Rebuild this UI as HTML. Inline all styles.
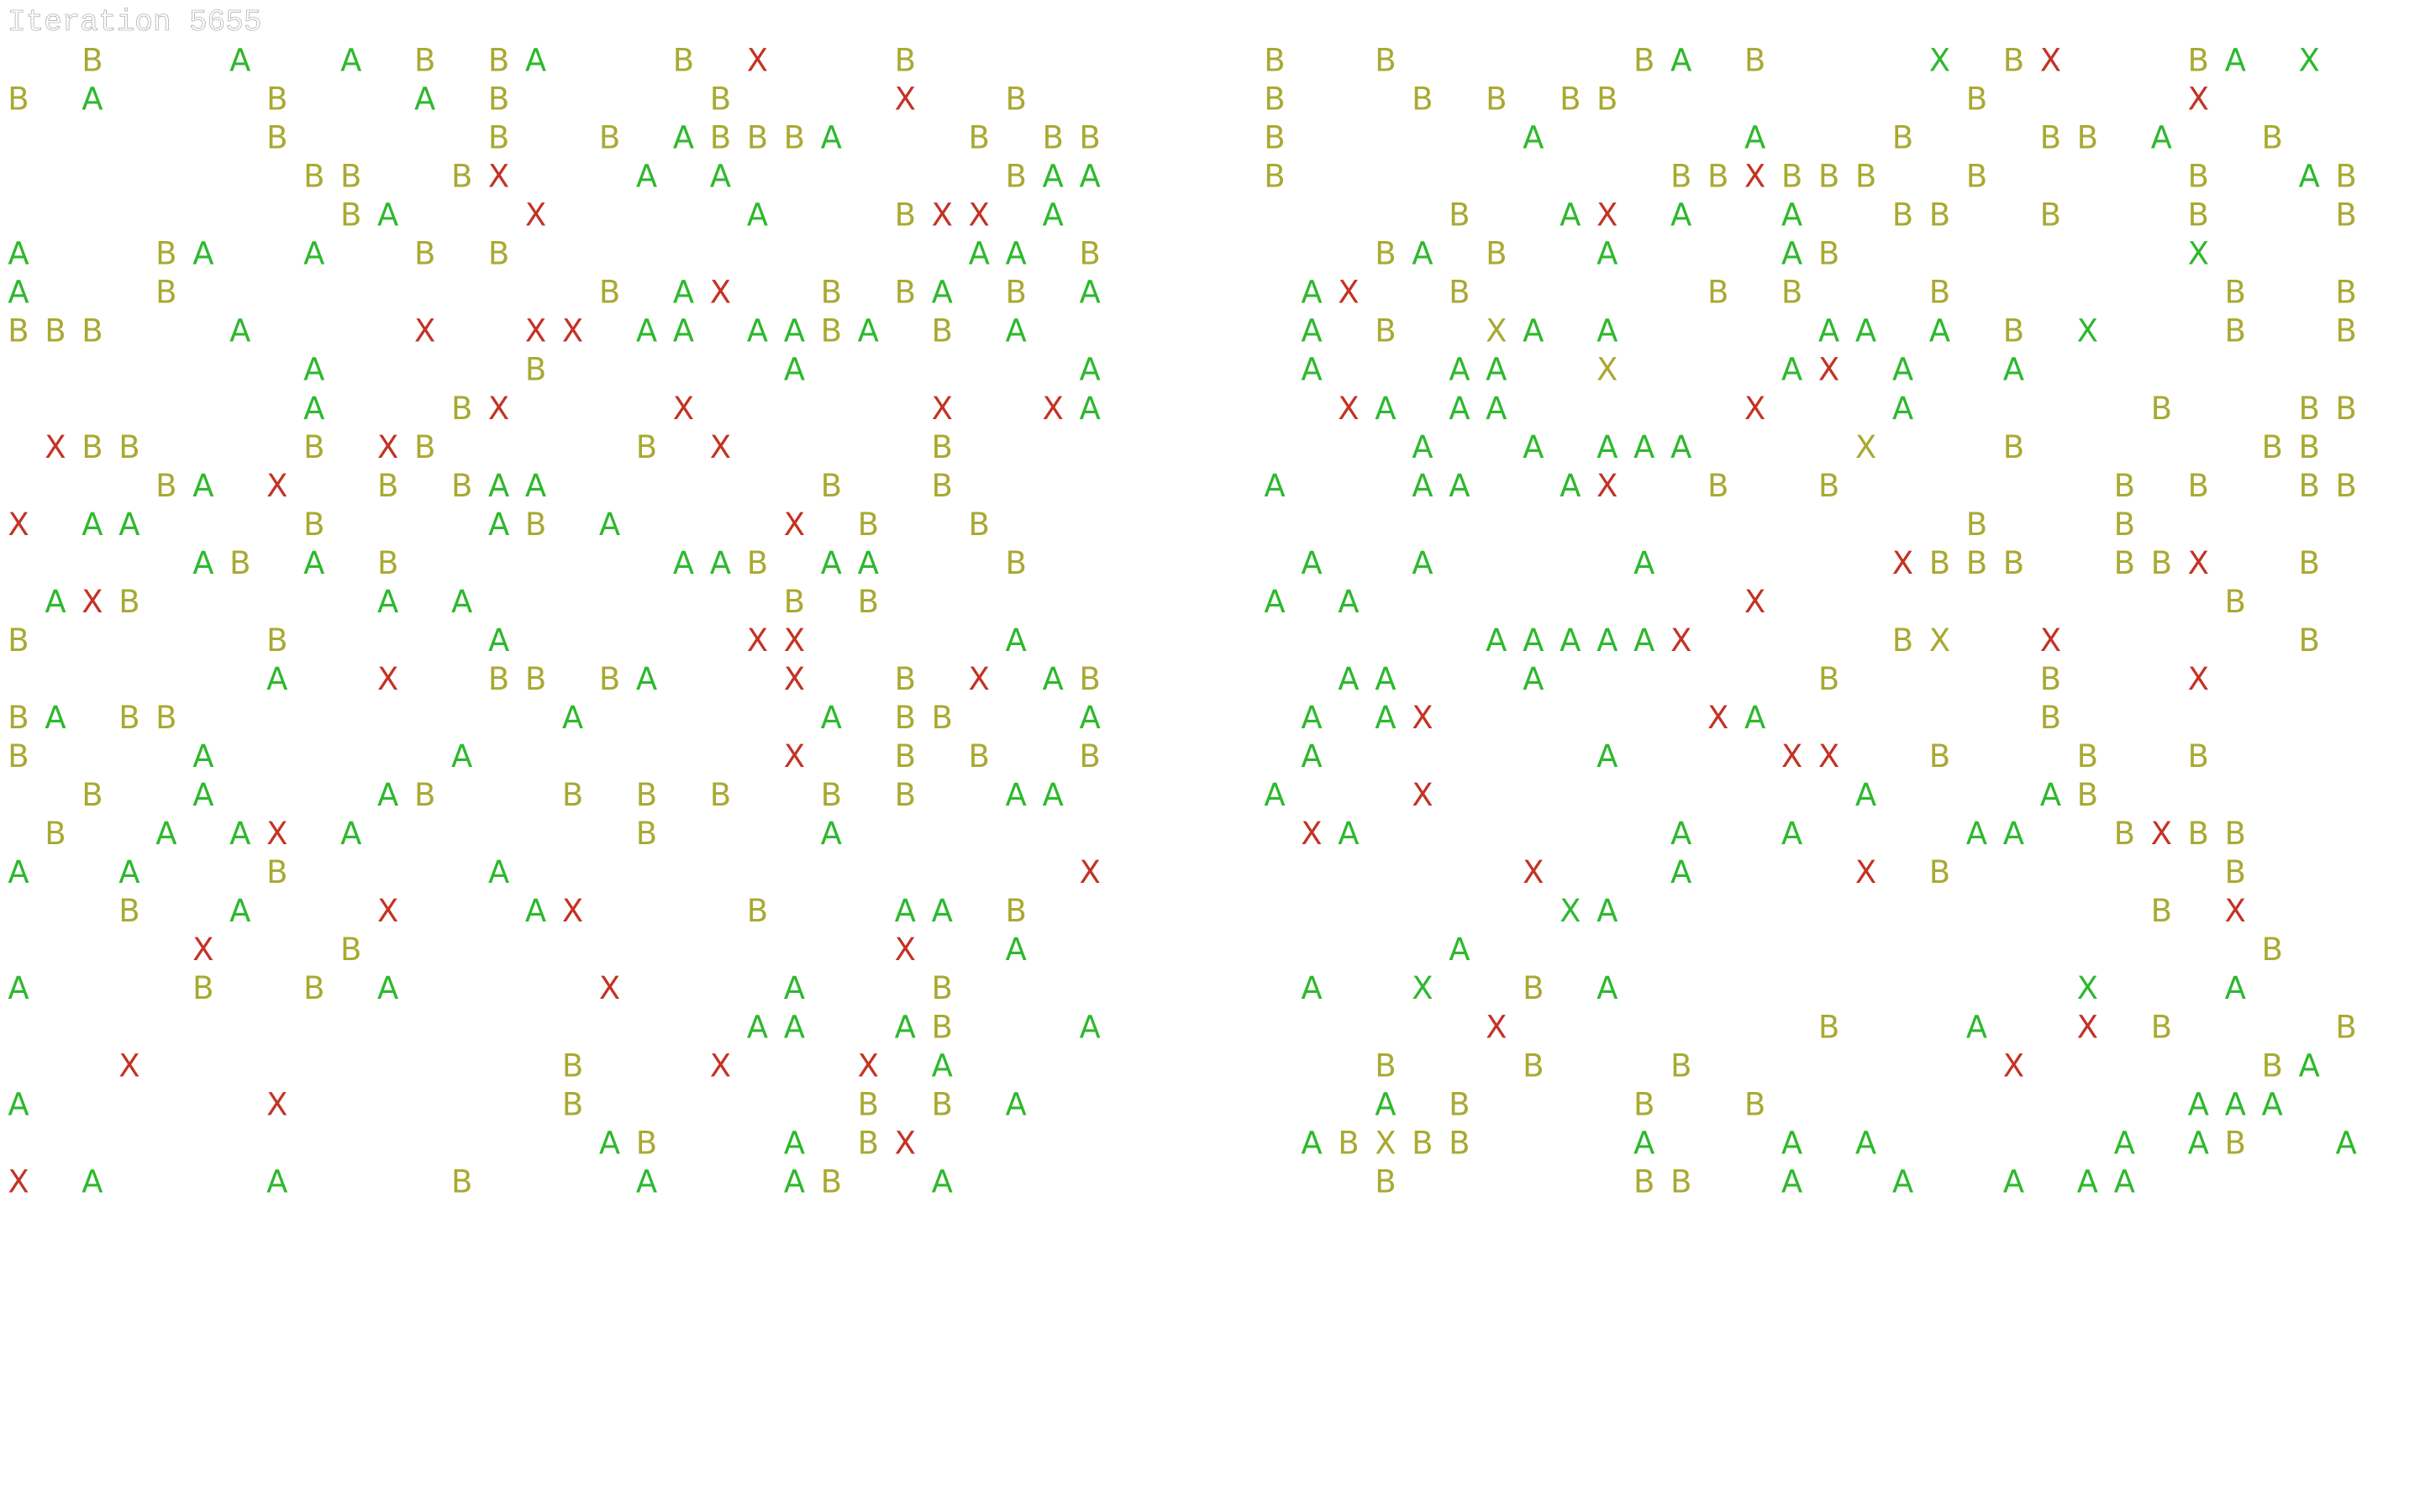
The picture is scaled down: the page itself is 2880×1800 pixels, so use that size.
<!DOCTYPE html>
<html><head><meta charset="utf-8">
<style>
html,body{margin:0;padding:0;background:#fff;width:2880px;height:1800px;overflow:hidden}
svg{display:block}
</style></head>
<body>
<svg id="chart" width="2880" height="1800" xmlns="http://www.w3.org/2000/svg">
<rect width="2880" height="1800" fill="#fff"/>
<text x="9" y="36" font-family="Liberation Mono, monospace" font-size="36" fill="#fff" stroke="#999" stroke-width="0.6">Iteration 5655</text>
<g id="left"></g>
<g id="right"></g>
</svg>
<script>
// cells: "col+char"; A,B, X=red X, Y=olive X, G=green X
const leftRows = [
"2B 6A 9A 11B 13B 14A 18B 20X 24B",
"0B 2A 7B 11A 13B 19B 24X 27B",
"7B 13B 16B 18A 19B 20B 21B 22A 26B 28B 29B",
"8B 9B 12B 13X 17A 19A 27B 28A 29A",
"9B 10A 14X 20A 24B 25X 26X 28A",
"0A 4B 5A 8A 11B 13B 26A 27A 29B",
"0A 4B 16B 18A 19X 22B 24B 25A 27B 29A",
"0B 1B 2B 6A 11X 14X 15X 17A 18A 20A 21A 22B 23A 25B 27A",
"8A 14B 21A 29A",
"8A 12B 13X 18X 25X 28X 29A",
"1X 2B 3B 8B 10X 11B 17B 19X 25B",
"4B 5A 7X 10B 12B 13A 14A 22B 25B",
"0X 2A 3A 8B 13A 14B 16A 21X 23B 26B",
"5A 6B 8A 10B 18A 19A 20B 22A 23A 27B",
"1A 2X 3B 10A 12A 21B 23B",
"0B 7B 13A 20X 21X 27A",
"7A 10X 13B 14B 16B 17A 21X 24B 26X 28A 29B",
"0B 1A 3B 4B 15A 22A 24B 25B 29A",
"0B 5A 12A 21X 24B 26B 29B",
"2B 5A 10A 11B 15B 17B 19B 22B 24B 27A 28A",
"1B 4A 6A 7X 9A 17B 22A",
"0A 3A 7B 13A 29X",
"3B 6A 10X 14A 15X 20B 24A 25A 27B",
"5X 9B 24X 27A",
"0A 5B 8B 10A 16X 21A 25B",
"20A 21A 24A 25B 29A",
"3X 15B 19X 23X 25A",
"0A 7X 15B 23B 25B 27A",
"16A 17B 21A 23B 24X",
"0X 2A 7A 12B 17A 21A 22B 25A"
];
const rightRows = [
"0B 3B 10B 11A 13B 18G 20B 21X 25B 26A 28G",
"0B 4B 6B 8B 9B 19B 25X",
"0B 7A 13A 17B 21B 22B 24A 27B",
"0B 11B 12B 13X 14B 15B 16B 19B 25B 28A 29B",
"5B 8A 9X 11A 14A 17B 18B 21B 25B 29B",
"3B 4A 6B 9A 14A 15B 25G",
"1A 2X 5B 12B 14B 18B 26B 29B",
"1A 3B 6Y 7A 9A 15A 16A 18A 20B 22G 26B 29B",
"1A 5A 6A 9Y 14A 15X 17A 20A",
"2X 3A 5A 6A 13X 17A 24B 28B 29B",
"4A 7A 9A 10A 11A 16Y 20B 27B 28B",
"0A 4A 5A 8A 9X 12B 15B 23B 25B 28B 29B",
"19B 23B",
"1A 4A 10A 17X 18B 19B 20B 23B 24B 25X 28B",
"0A 2A 13X 26B",
"6A 7A 8A 9A 10A 11X 17B 18Y 21X 28B",
"2A 3A 7A 15B 21B 25X",
"1A 3A 4X 12X 13A 21B",
"1A 9A 14X 15X 18B 22B 25B",
"0A 4X 16A 21A 22B",
"1X 2A 11A 14A 19A 20A 23B 24X 25B 26B",
"7X 11A 16X 18B 26B",
"8G 9A 24B 26X",
"5A 27B",
"1A 4G 7B 9A 22G 26A",
"6X 15B 19A 22X 24B 29B",
"3B 7B 11B 20X 27B 28A",
"3A 5B 10B 13B 25A 26A 27A",
"1A 2B 3Y 4B 5B 10A 14A 16A 23A 25A 26B 29A",
"3B 10B 11B 14A 17A 20A 22A 23A"
];
const colors = {A:"#2eb82e", B:"#a9a933", X:"#c33325", Y:"#a9a933", G:"#2eb82e"};
const NS = "http://www.w3.org/2000/svg";
function xScale(panelX0, col){ return panelX0 + col*43.97; }
function yScale(row){ return 71 + row*46.03; }
function drawPanel(rows, gid, x0){
  const g = document.getElementById(gid);
  rows.forEach((row, r) => {
    row.split(" ").filter(s=>s).forEach(tok => {
      const col = parseInt(tok, 10);
      const ch = tok.slice(-1);
      const t = document.createElementNS(NS, "text");
      t.setAttribute("x", xScale(x0, col));
      t.setAttribute("y", yScale(r) + 13.5);
      t.setAttribute("text-anchor", "middle");
      t.setAttribute("font-family", "DejaVu Sans, sans-serif");
      t.setAttribute("font-size", "37");
      t.setAttribute("fill", colors[ch]);
      t.textContent = (ch === "Y" || ch === "G") ? "X" : ch;
      
      
      g.appendChild(t);
    });
  });
}
drawPanel(leftRows, "left", 22);
drawPanel(rightRows, "right", 1517);
</script>
</body></html>
